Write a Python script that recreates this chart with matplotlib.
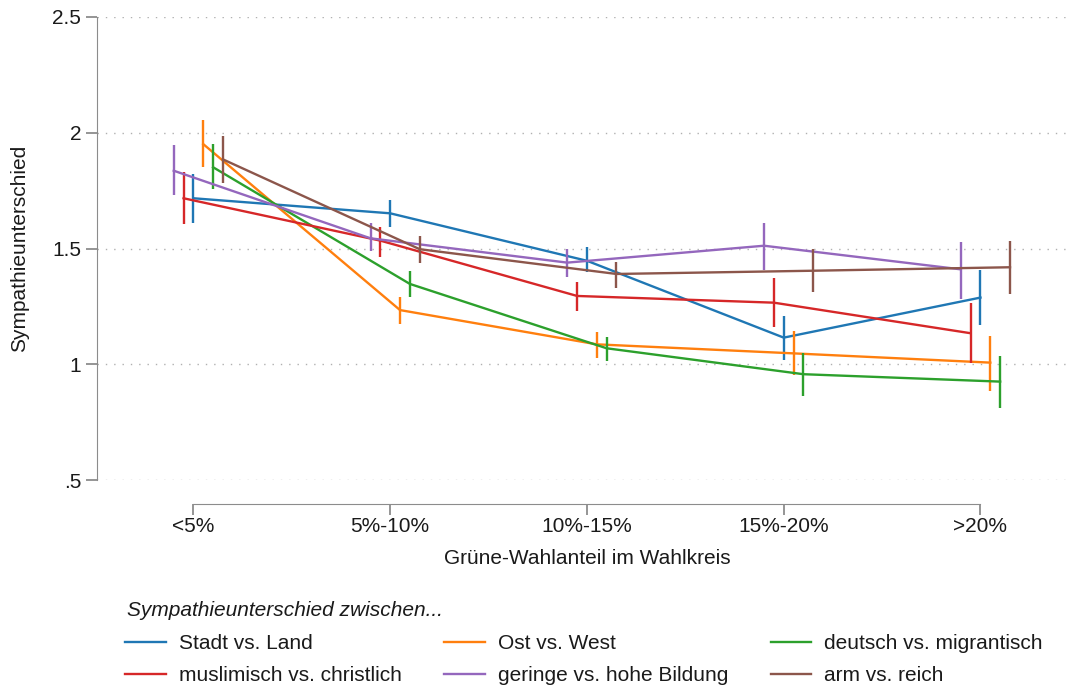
import matplotlib.pyplot as plt
import numpy as np

plt.rcParams['font.family'] = ['Liberation Sans', 'DejaVu Sans']

categories = ['<5%', '5%-10%', '10%-15%', '15%-20%', '>20%']

names = ['Stadt vs. Land', 'Ost vs. West', 'deutsch vs. migrantisch',
         'muslimisch vs. christlich', 'geringe vs. hohe Bildung', 'arm vs. reich']
colors = ['#1f77b4', '#ff7f0e', '#2ca02c', '#d62728', '#9467bd', '#8c564b']
offsets = [0.0, 0.05, 0.10, -0.05, -0.10, 0.15]

# means
stadt = [1.717, 1.652, 1.447, 1.115, 1.288]
ost = [1.951, 1.234, 1.086, 1.047, 1.007]
deutsch = [1.851, 1.347, 1.069, 0.957, 0.925]
muslim = [1.717, 1.534, 1.295, 1.266, 1.134]
bildung = [1.836, 1.544, 1.439, 1.512, 1.410]
arm = [1.885, 1.497, 1.390, 1.404, 1.419]

# confidence intervals
stadt_lo = [1.61, 1.594, 1.397, 1.018, 1.17]
stadt_hi = [1.82, 1.71, 1.508, 1.208, 1.407]
ost_lo = [1.851, 1.174, 1.028, 0.954, 0.886]
ost_hi = [2.055, 1.292, 1.14, 1.144, 1.123]
deutsch_lo = [1.756, 1.289, 1.014, 0.864, 0.812]
deutsch_hi = [1.95, 1.404, 1.119, 1.047, 1.037]
muslim_lo = [1.606, 1.465, 1.231, 1.16, 1.004]
muslim_hi = [1.832, 1.594, 1.357, 1.371, 1.266]
bildung_lo = [1.731, 1.489, 1.378, 1.407, 1.282]
bildung_hi = [1.947, 1.609, 1.497, 1.609, 1.529]
arm_lo = [1.784, 1.439, 1.33, 1.313, 1.303]
arm_hi = [1.986, 1.554, 1.44, 1.5, 1.534]

means = [stadt, ost, deutsch, muslim, bildung, arm]
lows = [stadt_lo, ost_lo, deutsch_lo, muslim_lo, bildung_lo, arm_lo]
highs = [stadt_hi, ost_hi, deutsch_hi, muslim_hi, bildung_hi, arm_hi]

fig = plt.figure(figsize=(10.71, 6.9), dpi=100)
ax = fig.add_axes([97 / 1071, 1 - 480 / 690, 974 / 1071, 463 / 690])

x = np.arange(len(categories))
handles = []
for m, lo, hi, c, off, name in zip(means, lows, highs, colors, offsets, names):
    xs = x + off
    h, = ax.plot(xs, m, color=c, lw=1.7, label=name)
    ax.vlines(xs, lo, hi, color=c, lw=1.7)
    handles.append(h)

ax.set_ylim(0.5, 2.5)
ax.set_xlim(-0.49, 4.46)
ax.set_yticks([0.5, 1, 1.5, 2, 2.5])
ax.set_yticklabels(['.5', '1', '1.5', '2', '2.5'])
ax.set_xticks(x)
ax.set_xticklabels(categories)
ax.yaxis.grid(True, linestyle=(0, (1, 5)), color='#b0b0b0', lw=1)

for s in ['top', 'right']:
    ax.spines[s].set_visible(False)
ax.spines['left'].set_color('#8c8c8c')
ax.spines['bottom'].set_color('#8c8c8c')
ax.spines['bottom'].set_position(('outward', 17))
ax.spines['bottom'].set_bounds(0, 4)
ax.tick_params(axis='both', colors='#8c8c8c', labelcolor='#1a1a1a', length=8, width=1.3, labelsize=15)
ax.tick_params(axis='x', pad=2)

ax.set_ylabel('Sympathieunterschied', fontsize=15, color='#1a1a1a')
ax.yaxis.set_label_coords(-0.070, 0.5)
ax.set_xlabel('Grüne-Wahlanteil im Wahlkreis', fontsize=15, color='#1a1a1a')
ax.xaxis.set_label_coords(0.5036, -0.15)

fig.text(127 / 1071, 1 - 611 / 690, 'Sympathieunterschied zwischen...', fontsize=15,
         style='italic', color='#1a1a1a', va='center', ha='left')

# column-wise fill: Stadt/muslim, Ost/Bildung, deutsch/arm
order = [0, 3, 1, 4, 2, 5]
leg = fig.legend([handles[i] for i in order], [names[i] for i in order],
                 loc='upper left', bbox_to_anchor=(125 / 1071, 1 - 634 / 690), ncol=3,
                 frameon=False, fontsize=15,
                 handlelength=1.95, handletextpad=0.62, columnspacing=2.05, labelspacing=0.62,
                 borderpad=0, borderaxespad=0)
for t in leg.get_texts():
    t.set_color('#1a1a1a')

plt.savefig('out.png', dpi=100)
